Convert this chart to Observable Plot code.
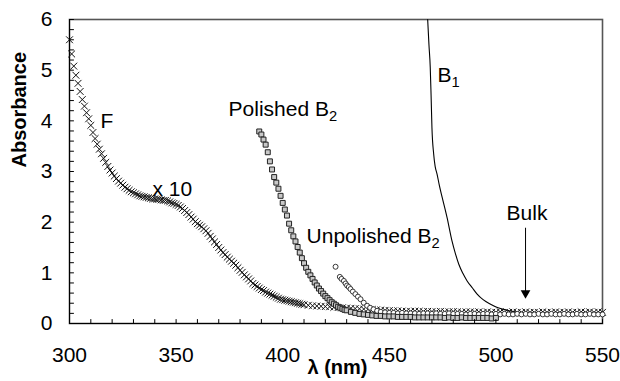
<!DOCTYPE html>
<html><head><meta charset="utf-8">
<script src="https://cdn.jsdelivr.net/npm/d3@7"></script>
<script src="https://cdn.jsdelivr.net/npm/@observablehq/plot@0.6"></script>
<style>
body{margin:0;background:#fff}
#chart svg{font-family:"Liberation Sans",Arial,sans-serif;background:#fff}
</style>
</head><body><div id="chart"></div>
<script>
// ---- Data ----
const fLambda = [300,301,302,303,304,305,306,307,308,309,310,311,312,313,314,315,316,317,318,319,
  320,321,322,323,324,325,326,327,328,329,330,331,332,333,334,335,336,337,338,339,
  340,341,342,343,344,345,346,347,348,349,350,351,352,353,354,355,356,357,358,359,
  360,361,362,363,364,365,366,367,368,369,370,371,372,373,374,375,376,377,378,379,
  380,381,382,383,384,385,386,387,388,389,390,391,392,393,394,395,396,397,398,399,
  400,401,402,403,404,405,406,407,408,409,410,
  412,414,416,418,420,422,424,426,428,430,432,434,436,438,440,442,444,446,448,450,
  452,454,456,458,460,462,464,466,468,470,472,474,476,478,480,482,484,486,488,490,
  492,494,496,498,500,502,504,506,508,510,512,514,516,518,520,522,524,526,528,530,
  532,534,536,538,540,542,544,546,548,550];
const fAbs = [5.60,5.32,5.08,4.90,4.74,4.58,4.42,4.29,4.16,4.04,3.91,3.77,3.65,3.54,3.44,3.35,3.26,3.18,3.10,3.03,
  2.97,2.91,2.86,2.81,2.77,2.73,2.69,2.66,2.63,2.60,2.58,2.56,2.54,2.52,2.51,2.50,2.49,2.48,2.47,2.46,
  2.46,2.45,2.45,2.44,2.43,2.43,2.42,2.40,2.38,2.37,2.35,2.33,2.30,2.27,2.23,2.19,2.15,2.10,2.06,2.01,
  1.97,1.94,1.91,1.87,1.83,1.78,1.72,1.67,1.61,1.56,1.50,1.45,1.40,1.36,1.31,1.27,1.23,1.19,1.15,1.10,
  1.05,1.01,0.96,0.92,0.88,0.84,0.79,0.76,0.73,0.70,0.67,0.65,0.62,0.60,0.58,0.56,0.54,0.52,0.50,0.48,
  0.47,0.46,0.45,0.44,0.43,0.42,0.41,0.40,0.39,0.38,0.37,
  0.36,0.35,0.345,0.34,0.335,0.33,0.32,0.315,0.31,0.305,0.30,0.295,0.29,0.285,0.28,0.275,0.27,0.265,0.26,0.255,
  0.25,0.25,0.245,0.24,0.24,0.245,0.24,0.235,0.24,0.235,0.23,0.24,0.23,0.23,0.235,0.23,0.225,0.23,0.23,0.225,
  0.23,0.22,0.23,0.22,0.22,0.23,0.22,0.22,0.23,0.22,0.22,0.23,0.22,0.22,0.22,0.23,0.22,0.22,0.23,0.22,
  0.22,0.23,0.22,0.22,0.23,0.22,0.23,0.22,0.23,0.22];

const pLambda = [389,390,391,392,393,394,395,396,397,398,399,400,401,402,403,404,405,406,407,408,
  409,410,411,412,413,414,415,416,417,418,419,420,421,422,423,424,425,426,427,428,429,430,
  432,434,436,438,440,442,444,446,448,450,452,454,456,458,460,462,464,466,468,470,
  472,474,476,478,480,482,484,486,488,490,492,494,496,498,500];
const pAbs = [3.79,3.73,3.63,3.53,3.38,3.20,3.04,2.89,2.78,2.66,2.52,2.38,2.25,2.13,1.97,1.84,1.72,1.62,1.51,1.40,
  1.29,1.19,1.10,1.02,0.95,0.88,0.81,0.75,0.69,0.64,0.59,0.54,0.50,0.46,0.42,0.39,0.36,0.33,0.31,0.29,0.27,0.26,
  0.23,0.21,0.19,0.18,0.17,0.16,0.15,0.15,0.14,0.14,0.14,0.13,0.13,0.13,0.13,0.12,0.12,0.12,0.12,0.12,
  0.12,0.12,0.11,0.12,0.11,0.11,0.12,0.11,0.11,0.11,0.11,0.11,0.11,0.10,0.11];

const uLambda = [424.8,426.8,427.6,428.7,429.5,430.2,431.0,431.8,432.9,434.1,435.3,436.5,438.0,439.6,441.0,442.6,444.3,446,448,450,
  452,454,456,458,460,462,464,466,468,470,472,474,476,478,480,482,484,486,488,490,
  492,494,496,498,500,502,504,506,508,510,512,514,516,518,520,522,524,526,528,530,
  532,534,536,538,540,542,544,546,548,550];
const uAbs = [1.12,0.92,0.88,0.84,0.79,0.75,0.72,0.68,0.63,0.58,0.53,0.48,0.41,0.35,0.31,0.28,0.25,0.23,0.22,0.21,
  0.21,0.20,0.21,0.20,0.20,0.20,0.19,0.20,0.20,0.19,0.20,0.19,0.19,0.20,0.19,0.19,0.19,0.18,0.19,0.19,
  0.18,0.19,0.19,0.18,0.19,0.18,0.19,0.18,0.18,0.19,0.18,0.19,0.18,0.18,0.19,0.18,0.18,0.19,0.18,0.18,
  0.19,0.18,0.18,0.19,0.18,0.18,0.19,0.18,0.18,0.18];

const bLambda = [468.0,468.6,469.2,469.6,470.0,470.8,471.5,472.4,473.5,474.8,477.1,479.4,481.0,482.6,484.5,486.5,489.0,491.2,494.0,497.5,501.0,505.3,509.0,513.0,520,530,540,550];
const bAbs = [6.0,5.5,5.06,4.5,3.87,3.35,3.10,2.95,2.72,2.49,2.09,1.63,1.38,1.17,0.99,0.84,0.70,0.58,0.47,0.38,0.31,0.26,0.23,0.21,0.21,0.21,0.21,0.21];

const xTicks = [300,350,400,450,500,550];
const yTicks = [0,1,2,3,4,5,6];
const xMinor = [300,310,320,330,340,350,360,370,380,390,400,410,420,430,440,450,460,470,480,490,500,510,520,530,540,550];
const yMinor = [0,0.2,0.4,0.6,0.8,1,1.2,1.4,1.6,1.8,2,2.2,2.4,2.6,2.8,3,3.2,3.4,3.6,3.8,4,4.2,4.4,4.6,4.8,5,5.2,5.4,5.6,5.8,6];

const labelText = ["F","x 10","Polished B2","Unpolished B2","B1","Bulk"];
const labelX = [314.5,338.9,374.6,411.2,472.6,505.0];
const labelY = [4.00,2.64,4.23,1.72,4.89,2.18];

const arrowX = [513.9];
const arrowFrom = [1.89];
const arrowTo = [0.54];

// ---- Build tables ----
const zip = (xs, ys) => xs.map((x, i) => ({x, y: ys[i]}));
const fData = zip(fLambda, fAbs);
const pData = zip(pLambda, pAbs);
const uData = zip(uLambda, uAbs);
const bData = zip(bLambda, bAbs);
const labels = labelText.map((t, i) => ({t, x: labelX[i], y: labelY[i]}));
const arrows = arrowX.map((x, i) => ({x, y1: arrowFrom[i], y2: arrowTo[i]}));

const tickShape = {draw(ctx, l) { ctx.moveTo(0, 0); ctx.lineTo(0, -l); }};

const chart = Plot.plot({
  width: 620, height: 381,
  marginLeft: 69, marginRight: 18, marginTop: 19, marginBottom: 58,
  style: {fontFamily: "'Liberation Sans', Arial, sans-serif", background: "#fff", color: "black"},
  x: {domain: [300, 550]},
  y: {domain: [0, 6]},
  marks: [
    Plot.frame({stroke: "#555", strokeWidth: 1.6}),
    Plot.ruleY([0], {stroke: "black", strokeWidth: 1.2}),
    Plot.ruleX([300], {stroke: "black", strokeWidth: 1}),
    Plot.line(bData, {x: "x", y: "y", stroke: "black", strokeWidth: 1.1, curve: "monotone-x"}),
    Plot.dot(fData, {x: "x", y: "y", symbol: "times", r: 3.2, stroke: "#111", strokeWidth: 1}),
    Plot.dot(uData, {x: "x", y: "y", symbol: "circle", r: 2.5, stroke: "#222", fill: "white", strokeWidth: 0.9}),
    Plot.dot(pData, {x: "x", y: "y", symbol: "square", r: 2.8, stroke: "#222", fill: "#c8c8c8", strokeWidth: 1}),
    Plot.vector(xMinor, {x: d => d, y: 0, length: 4, rotate: 0, anchor: "start", shape: tickShape, stroke: "black", strokeWidth: 1}),
    Plot.vector(yMinor, {x: 300, y: d => d, length: 4, rotate: 90, anchor: "start", shape: tickShape, stroke: "black", strokeWidth: 1}),
    Plot.axisX(xTicks, {tickSize: 0, tickPadding: 24, fontSize: 21, tickFormat: "d", label: null}),
    Plot.axisY(yTicks, {tickSize: 0, tickPadding: 17, fontSize: 21, tickFormat: "d", label: null}),
    Plot.text(["Absorbance"], {text: d => d, frameAnchor: "left", dx: -50, dy: -4, rotate: -90, fontSize: 20, fontWeight: "bold", fill: "black"}),
    Plot.text(["λ (nm)"], {text: d => d, frameAnchor: "bottom", dx: 1.5, dy: 50, fontSize: 20, fontWeight: "bold", fill: "black"}),
    Plot.text(labels, {x: "x", y: "y", text: "t", textAnchor: "start", lineAnchor: "middle", fontSize: 21, fill: "black"}),
    Plot.link(arrows, {x1: "x", x2: "x", y1: "y1", y2: "y2", stroke: "black", strokeWidth: 1}),
    Plot.dot(arrows, {x: "x", y: "y2", symbol: "triangle", rotate: 180, r: 3.6, fill: "black", stroke: "none", dy: -3})
  ]
});

// subscripts for B1 / B2
chart.querySelectorAll("text").forEach(el => {
  const s = el.textContent;
  if (/B[12]$/.test(s) && el.children.length === 0) {
    el.textContent = s.slice(0, -1);
    const ts = document.createElementNS("http://www.w3.org/2000/svg", "tspan");
    ts.setAttribute("dy", "0.32em");
    ts.setAttribute("font-size", "0.7em");
    ts.textContent = s.slice(-1);
    el.appendChild(ts);
  }
});

document.getElementById("chart").appendChild(chart);
</script>
</body></html>
